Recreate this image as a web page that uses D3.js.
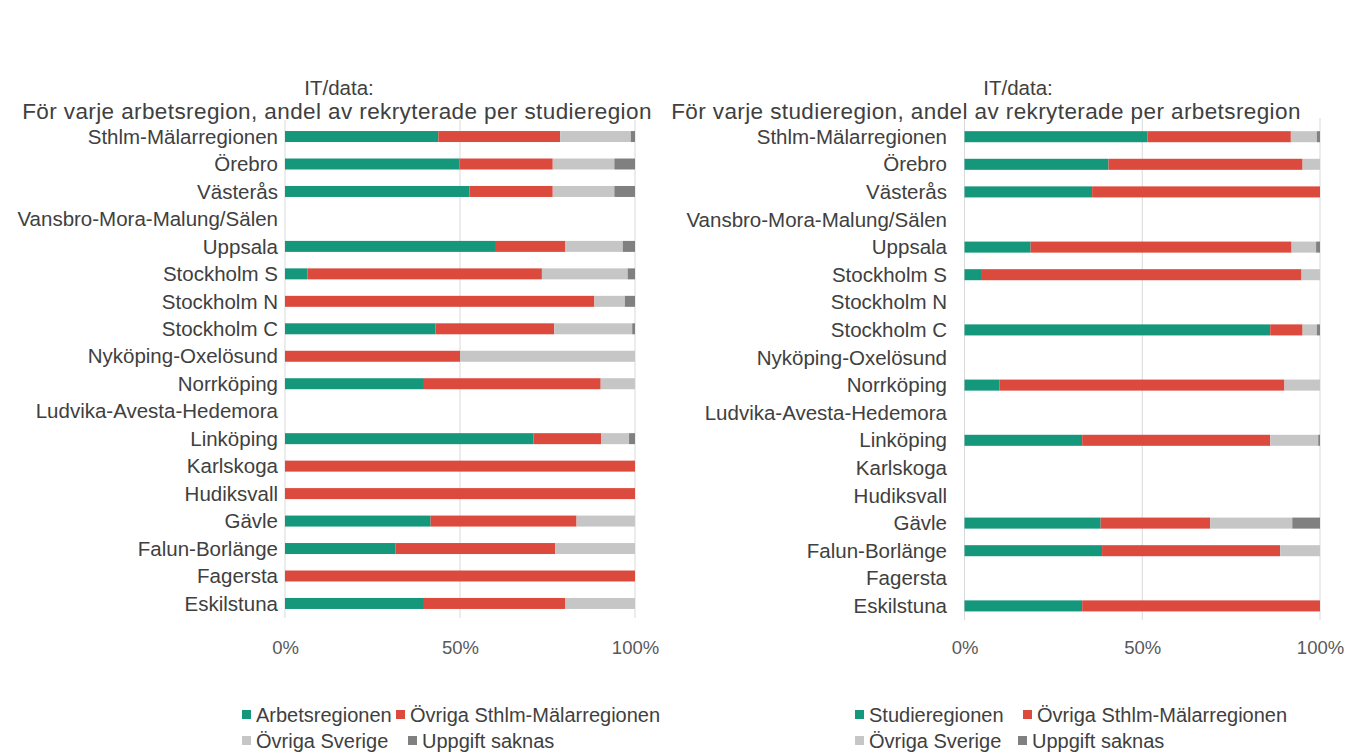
<!DOCTYPE html>
<html><head><meta charset="utf-8">
<script src="https://cdn.jsdelivr.net/npm/d3@7"></script>
<style>body{margin:0;background:#fff;} svg{display:block;font-family:"Liberation Sans",Arial,sans-serif;}</style>
</head><body>
<svg id="c" width="1347" height="753"></svg>
<script>
const categories = ["Sthlm-Mälarregionen","Örebro","Västerås","Vansbro-Mora-Malung/Sälen","Uppsala","Stockholm S","Stockholm N","Stockholm C","Nyköping-Oxelösund","Norrköping","Ludvika-Avesta-Hedemora","Linköping","Karlskoga","Hudiksvall","Gävle","Falun-Borlänge","Fagersta","Eskilstuna"];
const seriesKeys = ["egen","ovrigaSM","ovrigaSverige","saknas"];
const legendLeft = ["Arbetsregionen","Övriga Sthlm-Mälarregionen","Övriga Sverige","Uppgift saknas"];
const legendRight = ["Studieregionen","Övriga Sthlm-Mälarregionen","Övriga Sverige","Uppgift saknas"];
const tickValues = [0, 0.5, 1];
const tickLabels = ["0%","50%","100%"];
// Left chart: per arbetsregion (shares, percent)
const leftEgen          = [43.8,49.8,52.7,0,60.0,6.4,0,43.0,0,39.7,0,71.0,0,0,41.6,31.6,0,39.7];
const leftOvrigaSM      = [34.8,26.7,23.8,0,20.0,67.0,88.4,33.9,50.0,50.5,0,19.3,100,100,41.7,45.6,100,40.3];
const leftOvrigaSverige = [20.2,17.6,17.6,0,16.5,24.5,8.7,22.3,50.0,9.8,0,8.0,0,0,16.7,22.8,0,20.0];
const leftSaknas        = [1.2,5.9,5.9,0,3.5,2.1,2.9,0.8,0,0,0,1.7,0,0,0,0,0,0];
// Right chart: per studieregion
const rightEgen          = [51.5,40.5,35.9,0,18.6,4.9,0,86.0,0,9.8,0,33.1,0,0,38.3,38.7,0,33.1];
const rightOvrigaSM      = [40.3,54.6,64.1,0,73.4,89.9,0,9.1,0,80.2,0,52.9,0,0,30.8,50.1,0,66.9];
const rightOvrigaSverige = [7.3,4.9,0,0,6.9,5.2,0,4.0,0,10.0,0,13.5,0,0,23.1,11.2,0,0];
const rightSaknas        = [0.9,0,0,0,1.1,0,0,0.9,0,0,0,0.5,0,0,7.8,0,0,0];

const colors = ["#14977a","#dc4a3e","#c6c6c6","#808080"];
const svg = d3.select("#c");

function drawChart(cfg){
  const g = svg.append("g");
  const rows = categories.map((c,i)=>({cat:c, egen:cfg.vals[0][i], ovrigaSM:cfg.vals[1][i], ovrigaSverige:cfg.vals[2][i], saknas:cfg.vals[3][i]}));
  const stack = d3.stack().keys(seriesKeys)(rows);
  const x = d3.scaleLinear().domain([0,100]).range(cfg.xr);
  const y = d3.scaleBand().domain(categories).range(cfg.yr).paddingInner(0.6).paddingOuter(0.3);
  g.selectAll("line.grid").data(tickValues).join("line")
    .attr("x1",d=>x(d*100)).attr("x2",d=>x(d*100))
    .attr("y1",cfg.gy[0]).attr("y2",cfg.gy[1])
    .attr("stroke","#d9d9d9").attr("stroke-width",1);
  stack.forEach((s,k)=>{
    g.append("g").attr("fill",colors[k]).selectAll("rect").data(s).join("rect")
      .attr("x",d=>x(d[0])).attr("width",d=>Math.max(0,x(d[1])-x(d[0])))
      .attr("y",d=>y(d.data.cat)).attr("height",y.bandwidth());
  });
  g.selectAll("text.cat").data(categories).join("text")
    .attr("x",cfg.labelX).attr("y",d=>y(d)+y.bandwidth()/2).attr("dy","0.35em")
    .attr("text-anchor","end").attr("font-size",20.5).attr("fill","#404040").text(d=>d);
  const ax = d3.axisBottom(d3.scaleLinear().domain([0,1]).range(cfg.xr)).tickValues(tickValues).tickFormat((d,i)=>tickLabels[i]).tickSize(0).tickPadding(0);
  const axg = g.append("g").attr("transform",`translate(0,${cfg.tickY})`).call(ax);
  axg.select(".domain").remove();
  axg.selectAll("text").attr("font-size",18.5).attr("fill","#595959").attr("font-family","Liberation Sans, Arial, sans-serif");
  g.append("text").attr("x",cfg.t1x).attr("y",95).attr("text-anchor","middle").attr("font-size",20.5).attr("fill","#404040").text("IT/data:");
  g.append("text").attr("x",cfg.t2x).attr("y",119).attr("text-anchor","middle").attr("font-size",22.5).attr("letter-spacing",0.4).attr("fill","#404040").text(cfg.sub);
  const lg = g.append("g");
  cfg.legend.forEach((name,i)=>{
    const p = cfg.legPos[i];
    lg.append("rect").attr("x",p[0]).attr("y",p[1]-5).attr("width",9).attr("height",9).attr("fill",colors[i]);
    lg.append("text").attr("x",p[0]+14).attr("y",p[1]).attr("dy","0.35em").attr("font-size",20).attr("fill","#404040").text(name);
  });
}

drawChart({vals:[leftEgen,leftOvrigaSM,leftOvrigaSverige,leftSaknas], xr:[285,635], yr:[122.8,617.2], gy:[120,618], labelX:278, tickY:641,
  t1x:339, t2x:337, sub:"För varje arbetsregion, andel av rekryterade per studieregion", legend:legendLeft,
  legPos:[[242,715],[396,715],[242,741],[408,741]]});
drawChart({vals:[rightEgen,rightOvrigaSM,rightOvrigaSverige,rightSaknas], xr:[964.5,1320], yr:[122.9,619.7], gy:[118,620], labelX:947, tickY:641,
  t1x:1018, t2x:986, sub:"För varje studieregion, andel av rekryterade per arbetsregion", legend:legendRight,
  legPos:[[855,715],[1023,715],[855,741],[1018,741]]});
</script>
</body></html>
